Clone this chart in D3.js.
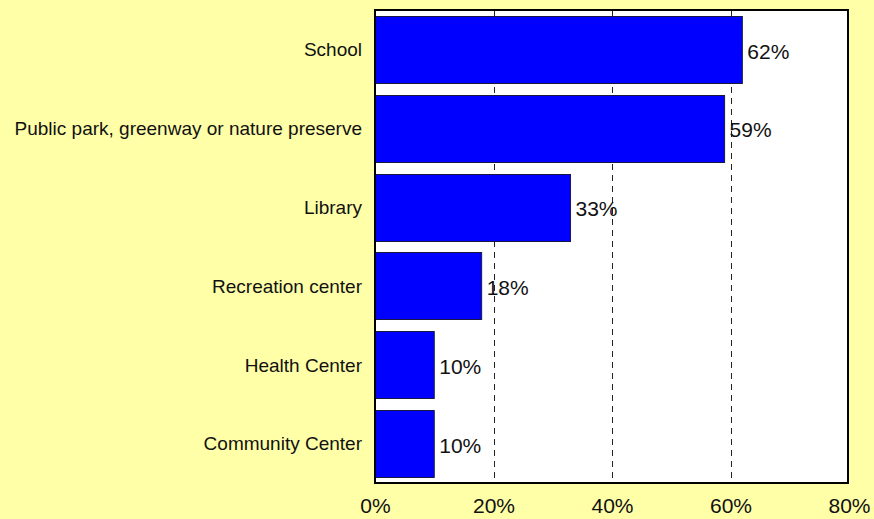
<!DOCTYPE html>
<html>
<head>
<meta charset="utf-8">
<script src="https://cdn.jsdelivr.net/npm/d3@7"></script>
<style>
  html, body { margin: 0; padding: 0; background: #FFFFA8; }
  svg { display: block; font-family: "Liberation Sans", Arial, sans-serif; }
</style>
</head>
<body>
<svg id="chart" width="874" height="519"></svg>
<script>
// Where people go: share of respondents by place type
const categories = [
  "School",
  "Public park, greenway or nature preserve",
  "Library",
  "Recreation center",
  "Health Center",
  "Community Center"
];
const values = [62, 59, 33, 18, 10, 10];
const tickValues = [0, 20, 40, 60, 80];
const tickLabels = ["0%", "20%", "40%", "60%", "80%"];

const svg = d3.select("#chart");
const plot = { left: 375, right: 848, top: 10, bottom: 483 };

const x = d3.scaleLinear().domain([0, 80]).range([plot.left, plot.right + 1]);
const y = d3.scaleBand()
  .domain(categories)
  .range([plot.top, plot.bottom])
  .paddingInner(0.15)
  .paddingOuter(0.075);

// plot background
svg.append("rect")
  .attr("x", plot.left).attr("y", plot.top)
  .attr("width", plot.right - plot.left).attr("height", plot.bottom - plot.top)
  .attr("fill", "#ffffff");

// dashed vertical gridlines
svg.append("g")
  .selectAll("line")
  .data(tickValues.filter(v => v > 0 && v < 80))
  .join("line")
  .attr("x1", d => Math.round(x(d)) + 0.5)
  .attr("x2", d => Math.round(x(d)) + 0.5)
  .attr("y1", plot.top)
  .attr("y2", plot.bottom)
  .attr("stroke", "#222")
  .attr("stroke-width", 1)
  .attr("stroke-dasharray", "6,5");

// bars
svg.append("g")
  .selectAll("rect")
  .data(categories)
  .join("rect")
  .attr("x", x(0))
  .attr("y", d => Math.round(y(d)) + 0.5)
  .attr("width", (d, i) => x(values[i]) - x(0))
  .attr("height", Math.round(y.bandwidth()))
  .attr("fill", "#0000ff")
  .attr("stroke", "#1a1a40")
  .attr("stroke-width", 1);

// value labels
svg.append("g")
  .selectAll("text")
  .data(categories)
  .join("text")
  .attr("x", (d, i) => x(values[i]) + 5)
  .attr("y", d => y(d) + y.bandwidth() / 2)
  .attr("dy", "0.44em")
  .attr("font-size", 21)
  .attr("fill", "#111")
  .text((d, i) => values[i] + "%");

// category axis labels
svg.append("g")
  .selectAll("text")
  .data(categories)
  .join("text")
  .attr("x", 362)
  .attr("y", d => y(d) + y.bandwidth() / 2)
  .attr("dy", "0.36em")
  .attr("text-anchor", "end")
  .attr("font-size", 19)
  .attr("fill", "#111")
  .text(d => d);

// plot frame
svg.append("rect")
  .attr("x", plot.left).attr("y", plot.top)
  .attr("width", plot.right - plot.left).attr("height", plot.bottom - plot.top)
  .attr("fill", "none")
  .attr("stroke", "#000")
  .attr("stroke-width", 2);

// x axis tick labels
const xAxis = d3.axisBottom(x)
  .tickValues(tickValues)
  .tickFormat((d, i) => tickLabels[i])
  .tickSize(0)
  .tickPadding(15);
const gx = svg.append("g")
  .attr("transform", `translate(0,${plot.bottom})`)
  .call(xAxis);
gx.select(".domain").remove();
gx.selectAll("text")
  .attr("font-size", 21)
  .attr("font-family", "Liberation Sans, Arial, sans-serif")
  .attr("fill", "#111");
</script>
</body>
</html>
